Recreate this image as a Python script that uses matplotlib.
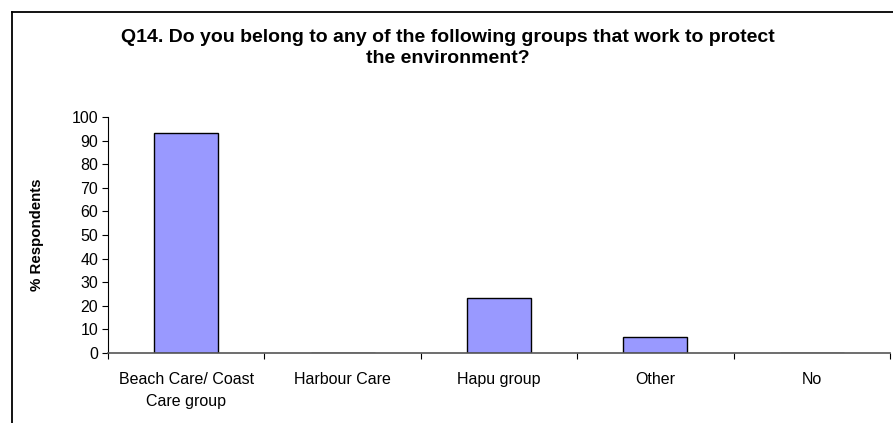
import matplotlib
matplotlib.use("Agg")
from matplotlib import pyplot as plt
from matplotlib.lines import Line2D
import numpy as np

categories = ["Beach Care/ Coast\nCare group", "Harbour Care", "Hapu group", "Other", "No"]
values = [93.3, 0, 23.3, 6.7, 0]
yticks = list(range(0, 101, 10))

plt.rcParams['font.family'] = ['Liberation Sans', 'DejaVu Sans']

W, H = 893, 423
fig = plt.figure(figsize=(W / 100, H / 100), dpi=100)
ax = fig.add_axes([108 / W, 1 - 353 / H, (890 - 108) / W, (353 - 117) / H])

x = np.arange(len(categories))
ax.bar(x, values, width=0.41, color="#9999FF", edgecolor="black", linewidth=1)

ax.set_xlim(-0.5, len(categories) - 0.5)
ax.set_ylim(0, 100)
ax.set_yticks(yticks)
ax.set_yticklabels([str(t) for t in yticks], fontsize=11.5)

# categories labelled at the centre, tick marks between them
ax.set_xticks(x)
ax.set_xticklabels(categories, fontsize=11.5, linespacing=1.55)
ax.tick_params(axis='x', which='major', length=0, pad=14)
ax.set_xticks(np.arange(-0.5, len(categories)), minor=True)
ax.tick_params(axis='x', which='minor', length=4, direction='out', width=0.8)
ax.tick_params(axis='y', length=4, direction='out', width=0.8, pad=3)

ax.spines['top'].set_visible(False)
ax.spines['right'].set_visible(False)
ax.spines['left'].set_color("black")
ax.spines['bottom'].set_color("#555555")
ax.spines['bottom'].set_linewidth(1.2)

ax.set_ylabel("% Respondents", fontsize=10.8, fontweight='bold')
ax.yaxis.set_label_coords(-(108 - 44) / (890 - 108), 0.5)

fig.text(448 / W, 1 - 48 / H,
         "Q14. Do you belong to any of the following groups that work to protect\nthe environment?",
         ha='center', va='center', fontsize=14, fontweight='bold', linespacing=1.35)

# outer chart frame (cut off at right and bottom)
fig.add_artist(Line2D([12 / W, 12 / W], [0, 1 - 12.5 / H], transform=fig.transFigure,
                      color="black", linewidth=1.3))
fig.add_artist(Line2D([12 / W, 1], [1 - 12.5 / H, 1 - 12.5 / H], transform=fig.transFigure,
                      color="black", linewidth=1.3))

fig.savefig("out.png", dpi=100)
